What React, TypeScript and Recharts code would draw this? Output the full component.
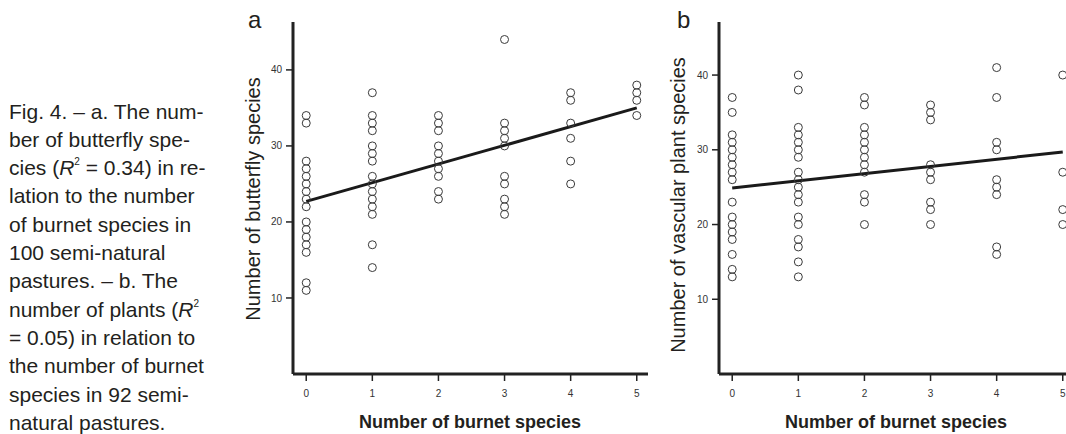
import React from "react";
import { ScatterChart, Scatter, XAxis, YAxis, ReferenceLine } from "recharts";

// Number of burnet species (x categories)
const burnetCounts = [0, 1, 2, 3, 4, 5];
const xTicks = [0, 1, 2, 3, 4, 5];
const yTicks = [10, 20, 30, 40];

// Panel a: number of butterfly species per burnet-count group
const butterfly0 = [34, 33, 28, 27, 26, 25, 24, 23, 22, 20, 19, 18, 17, 16, 12, 11];
const butterfly1 = [37, 34, 33, 32, 30, 29, 28, 26, 25, 24, 23, 22, 21, 17, 14];
const butterfly2 = [34, 33, 32, 30, 29, 28, 27, 26, 24, 23];
const butterfly3 = [44, 33, 32, 31, 30, 26, 25, 23, 22, 21];
const butterfly4 = [37, 36, 33, 31, 28, 25];
const butterfly5 = [38, 37, 36, 34];
const butterflyFit = [22.7, 35.0]; // fitted values at 0 and 5 burnet species

// Panel b: number of vascular plant species per burnet-count group
const plants0 = [37, 35, 32, 31, 30, 29, 28, 27, 26, 23, 21, 20, 19, 18, 16, 14, 13];
const plants1 = [40, 38, 33, 32, 31, 30, 29, 27, 26, 25, 24, 23, 21, 20, 18, 17, 15, 13];
const plants2 = [37, 36, 33, 32, 31, 30, 29, 28, 27, 24, 23, 20];
const plants3 = [36, 35, 34, 28, 27, 26, 23, 22, 20];
const plants4 = [41, 37, 31, 30, 26, 25, 24, 17, 16];
const plants5 = [40, 27, 22, 20];
const plantFit = [24.9, 29.7];

const captionLines = [
  "Fig. 4. \u2013 a. The num-",
  "ber of butterfly spe-",
  "cies (R^2 = 0.34) in re-",
  "lation to the number",
  "of burnet species in",
  "100 semi-natural",
  "pastures. \u2013 b. The",
  "number of plants (R^2",
  "= 0.05) in relation to",
  "the number of burnet",
  "species in 92 semi-",
  "natural pastures.",
];

const FONT = "'Liberation Sans', Arial, Helvetica, sans-serif";
const INK = "#231f20";

const toPoints = (cols: number[][]) =>
  burnetCounts.flatMap((b, i) => cols[i].map((v) => ({ burnet: b, species: v })));

const butterflyPoints = toPoints([butterfly0, butterfly1, butterfly2, butterfly3, butterfly4, butterfly5]);
const plantPoints = toPoints([plants0, plants1, plants2, plants3, plants4, plants5]);

const Ring = (props: any) => {
  if (props.cx == null || props.cy == null) return null;
  return <circle cx={props.cx} cy={props.cy} r={4} fill="none" stroke="#3a3a3a" strokeWidth={1} />;
};

const tickStyle = { fill: "#333", fontSize: 10, fontFamily: FONT };

function Panel({
  width,
  marginLeft,
  marginRight,
  yMax,
  points,
  fit,
}: {
  width: number;
  marginLeft: number;
  marginRight: number;
  yMax: number;
  points: { burnet: number; species: number }[];
  fit: number[];
}) {
  return (
    <ScatterChart
      width={width}
      height={434}
      margin={{ top: 22, right: marginRight, bottom: 30, left: marginLeft }}
    >
      <XAxis
        dataKey="burnet"
        type="number"
        domain={[-0.2, 5.17]}
        allowDataOverflow
        ticks={xTicks}
        interval={0}
        height={30}
        tickSize={7}
        tickMargin={9}
        tick={tickStyle}
        axisLine={{ stroke: "#222", strokeWidth: 3 }}
        tickLine={{ stroke: "#222", strokeWidth: 1.5 }}
      />
      <YAxis
        dataKey="species"
        type="number"
        domain={[0, yMax]}
        allowDataOverflow
        ticks={yTicks}
        interval={0}
        width={40}
        tickSize={7}
        tickMargin={4}
        tick={tickStyle}
        axisLine={{ stroke: "#222", strokeWidth: 3 }}
        tickLine={{ stroke: "#222", strokeWidth: 1.5 }}
      />
      <Scatter data={points} shape={Ring} isAnimationActive={false} />
      <ReferenceLine
        segment={[
          { x: 0, y: fit[0] },
          { x: 5, y: fit[1] },
        ]}
        stroke="#1a1a1a"
        strokeWidth={3}
      />
    </ScatterChart>
  );
}

function CaptionLine({ text, y }: { text: string; y: number }) {
  const parts = text.split("R^2");
  return (
    <text x={9} y={y} fontSize={21} fontFamily={FONT} fill={INK}>
      {parts.map((p, i) =>
        i === 0 ? (
          <tspan key={i}>{p}</tspan>
        ) : (
          <React.Fragment key={i}>
            <tspan fontStyle="italic">R</tspan>
            <tspan fontSize={10} dy={-10}>2</tspan>
            {p !== "" && <tspan dy={10}>{p}</tspan>}
          </React.Fragment>
        )
      )}
    </text>
  );
}

export default function App() {
  return (
    <div
      style={{
        position: "absolute",
        left: 0,
        top: 0,
        width: 1066,
        height: 434,
        overflow: "hidden",
        background: "#fff",
      }}
    >
      <svg width={1066} height={434} style={{ position: "absolute", left: 0, top: 0 }}>
        {captionLines.map((t, i) => (
          <CaptionLine key={i} text={t} y={118.5 + 28.3 * i} />
        ))}
        <text x={248} y={28} fontSize={24} fontFamily={FONT} fill={INK}>a</text>
        <text x={677} y={28} fontSize={24} fontFamily={FONT} fill={INK}>b</text>
        <text
          transform="translate(260,199) rotate(-90)"
          textAnchor="middle"
          fontSize={20}
          fontFamily={FONT}
          fill={INK}
        >
          Number of butterfly species
        </text>
        <text
          transform="translate(685,205) rotate(-90)"
          textAnchor="middle"
          fontSize={20}
          fontFamily={FONT}
          fill={INK}
        >
          Number of vascular plant species
        </text>
        <text x={470} y={428} textAnchor="middle" fontSize={18} fontWeight="bold" fontFamily={FONT} fill={INK}>
          Number of burnet species
        </text>
        <text x={896} y={428} textAnchor="middle" fontSize={18} fontWeight="bold" fontFamily={FONT} fill={INK}>
          Number of burnet species
        </text>
      </svg>
      <div style={{ position: "absolute", left: 0, top: 0 }}>
        <Panel width={660} marginLeft={253} marginRight={12} yMax={46.3} points={butterflyPoints} fit={butterflyFit} />
      </div>
      <div style={{ position: "absolute", left: 660, top: 0 }}>
        <Panel width={420} marginLeft={19} marginRight={6} yMax={47.1} points={plantPoints} fit={plantFit} />
      </div>
    </div>
  );
}
